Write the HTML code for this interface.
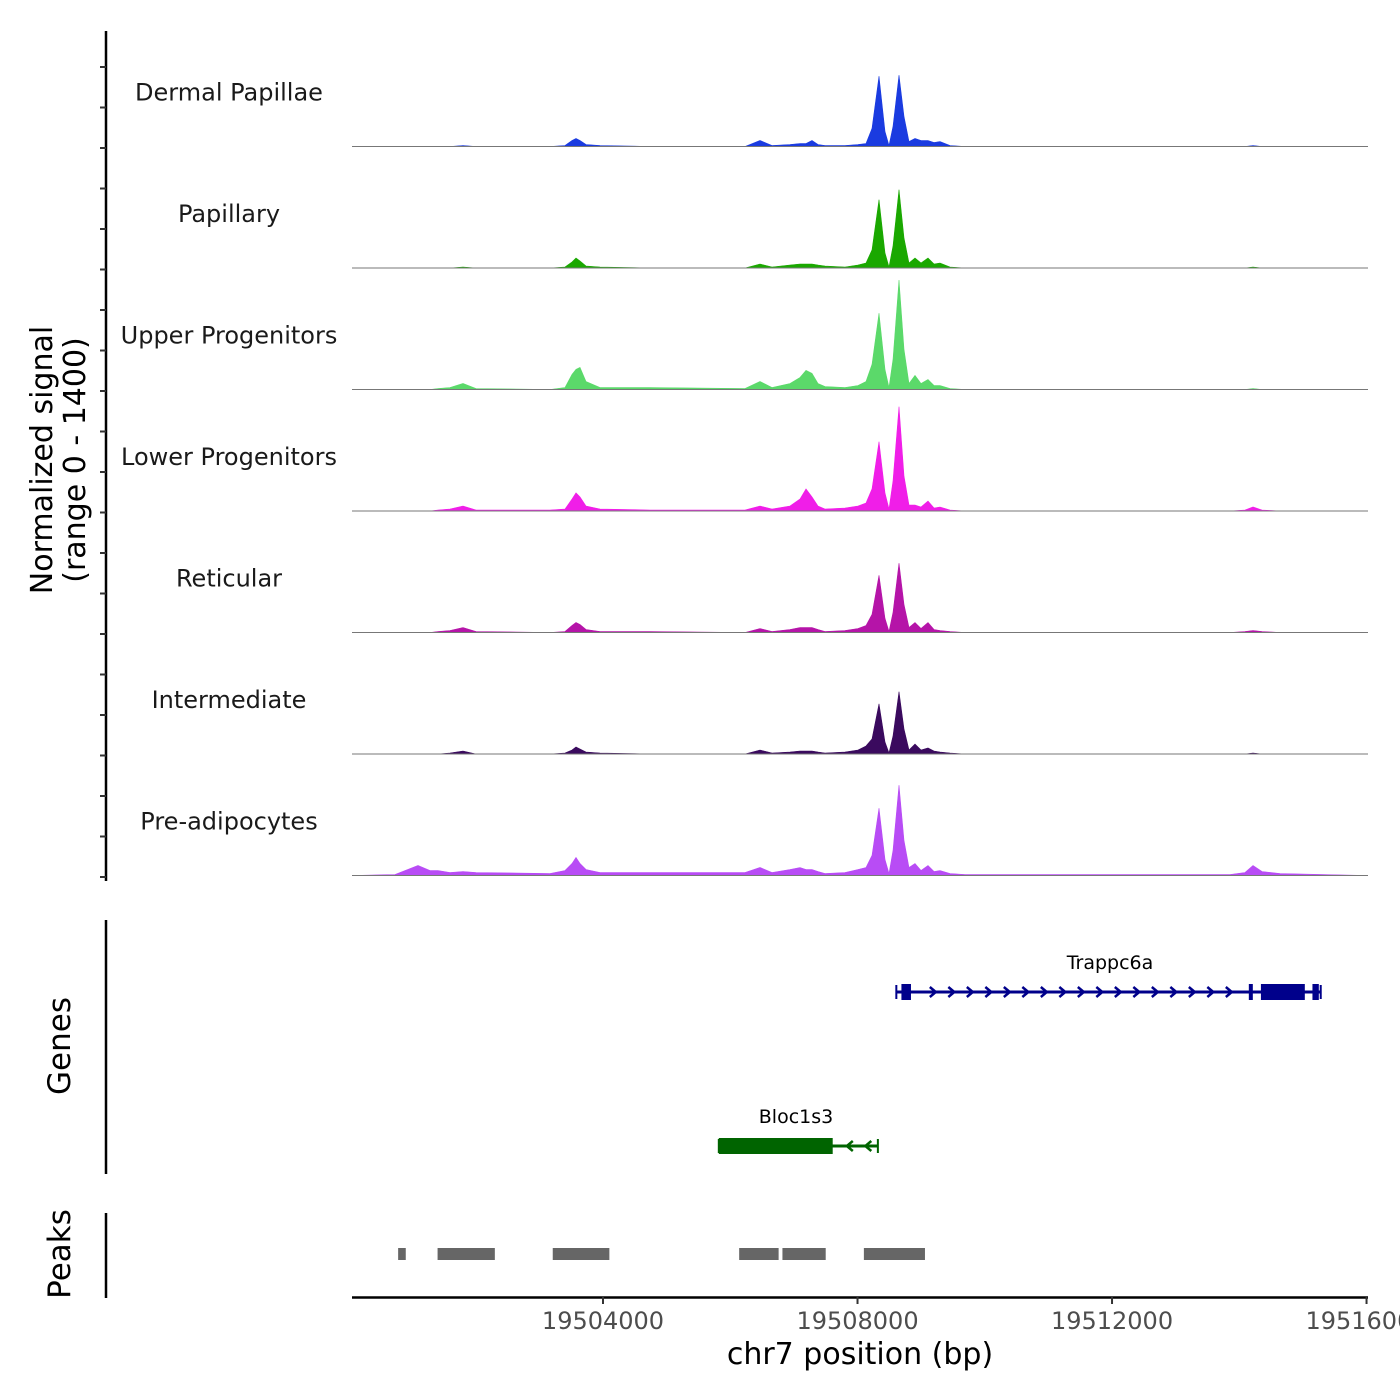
<!DOCTYPE html>
<html><head><meta charset="utf-8"><style>
html,body{margin:0;padding:0;background:#fff;}
svg{display:block;font-family:"DejaVu Sans","Liberation Sans",sans-serif;}
</style></head><body>
<svg id="chart" width="1400" height="1400" viewBox="0 0 1400 1400" overflow="visible"></svg>
<script>
// ---- data ----
const positions = [19500055,19500731,19501092,19501281,19501407,19501595,19501800,19502004,19503167,19503403,19503513,19503576,19503638,19503733,19503953,19504739,19506232,19506468,19506656,19506939,19507096,19507191,19507285,19507379,19507489,19507804,19508008,19508134,19508228,19508338,19508432,19508495,19508558,19508652,19508731,19508809,19508904,19508998,19509108,19509202,19509297,19509454,19509690,19511811,19513854,19514090,19514216,19514357,19514640,19516023];
const trackNames = ["Dermal Papillae","Papillary","Upper Progenitors","Lower Progenitors","Reticular","Intermediate","Pre-adipocytes"];
const trackColors = ["#1a3be0","#1aa800","#5bd96a","#f01ee8","#b514a8","#3a0a5e","#b84cf5"];
// signal values (scaled units, track max = 121)
const dermalValues = [0,0,0,0,0,0,1,0,0,1,6,8,6,2,1,0,0,6,1,2,3,3,6,2,1,1,2,3,18,70,15,1,20,71,30,5,8,6,6,4,5,1,0,0,0,0,1,0,0,0];
const papillaryValues = [0,0,0,0,0,0,1,0,0,1,6,10,7,2,1,0,0,4,1,3,4,4,4,3,2,1,3,5,18,68,15,1,22,78,30,5,10,5,10,4,5,1,0,0,0,0,1,0,0,0];
const upperValues = [0,0,0,0,1,2,6,1,0,2,15,20,22,8,2,2,1,8,2,6,12,19,16,6,3,2,4,8,25,76,20,2,30,109,40,6,14,6,10,4,4,1,0,0,0,0,1,0,0,0];
const lowerValues = [0,0,0,0,1,2,5,1,1,2,12,18,14,5,2,1,1,5,2,5,12,22,14,5,2,3,5,8,22,69,18,2,30,104,35,6,6,4,10,3,4,1,0,0,0,1,4,1,0,0];
const reticularValues = [0,0,0,0,1,2,5,1,0,1,7,10,8,3,1,1,0,4,1,3,5,5,5,3,1,2,4,7,18,57,14,1,20,69,28,5,10,4,10,3,2,1,0,0,0,1,2,1,0,0];
const intermediateValues = [0,0,0,0,0,1,3,0,0,1,4,7,5,2,1,0,0,4,1,2,3,3,3,2,1,2,4,8,15,50,12,1,18,62,25,4,10,4,6,3,2,1,0,0,0,0,1,0,0,0];
const preadipoValues = [0,1,10,5,5,3,4,3,2,5,12,18,12,6,3,3,3,8,3,6,8,6,6,4,2,3,6,8,20,67,16,2,25,90,35,8,12,5,10,4,5,2,1,1,1,3,10,4,2,0];
const xTicks = [19504000,19508000,19512000,19516000];
const xTickLabels = ["19504000","19508000","19512000","19516000"];
const peakStarts = [19500780,19501400,19503210,19506140,19506820,19508100];
const peakEnds = [19500900,19502300,19504100,19506760,19507500,19509060];
const trappcExons = [[19508690,19508840],[19514150,19514200],[19514340,19515030],[19515150,19515250]];
const trappcSpan = [19508610,19515280];
const blocExons = [[19505820,19507610]];
const blocSpan = [19505820,19508320];

const allValues=[dermalValues,papillaryValues,upperValues,lowerValues,reticularValues,intermediateValues,preadipoValues];
const NS="http://www.w3.org/2000/svg", svg=document.getElementById("chart");
const xMin=19500055,xMax=19516023,pxL=352,pxR=1368;
const xs=v=>pxL+(v-xMin)/(xMax-xMin)*(pxR-pxL);
const yMax=121, trackTop=25, trackH=121.5;
function mk(tag,attrs,parent){const e=document.createElementNS(NS,tag);for(const k in attrs)e.setAttribute(k,attrs[k]);(parent||svg).appendChild(e);return e;}

// left axes
let a=mk("line",{x1:106,y1:31,x2:106,y2:881,stroke:"#000","stroke-width":2.5});


for(let y=67;y<=880;y+=40.5){let t=mk("line",{x1:100,y1:y,x2:106,y2:y,stroke:"#333","stroke-width":2});

}
a=mk("line",{x1:106,y1:920,x2:106,y2:1174,stroke:"#000","stroke-width":2.5});


a=mk("line",{x1:106,y1:1213,x2:106,y2:1298,stroke:"#000","stroke-width":2.5});



let t=mk("text",{transform:"translate(52,460) rotate(-90)","text-anchor":"middle","font-size":30,fill:"#000"});


t.textContent="Normalized signal";
t=mk("text",{transform:"translate(85,460) rotate(-90)","text-anchor":"middle","font-size":30,fill:"#000"});


t.textContent="(range 0 - 1400)";
t=mk("text",{transform:"translate(70,1046) rotate(-90)","text-anchor":"middle","font-size":31,fill:"#000"});


t.textContent="Genes";
t=mk("text",{transform:"translate(70,1254) rotate(-90)","text-anchor":"middle","font-size":31,fill:"#000"});


t.textContent="Peaks";

// tracks
allValues.forEach((vals,i)=>{
  const base=trackTop+trackH*(i+1);
  const ys=v=>base-v/yMax*trackH;
  let d="M"+xs(positions[0])+","+base;
  positions.forEach((p,j)=>{d+=" L"+xs(p).toFixed(1)+","+ys(vals[j]).toFixed(1);});
  d+=" L"+xs(positions[positions.length-1])+","+base+" Z";
  const path=mk("path",{d:d,fill:trackColors[i],stroke:trackColors[i],"stroke-width":0.6});
  
  
  const bl=mk("line",{x1:pxL,y1:base,x2:pxR,y2:base,stroke:"#777","stroke-width":1});
  
  
  const lb=mk("text",{x:229,y:base-46,"text-anchor":"middle","font-size":24,fill:"#1a1a1a"});
  
  
  lb.textContent=trackNames[i];
});

// genes
function gene(name,span,exons,y,color,dir,label){
  const g=mk("g",{});
  
  
  mk("line",{x1:xs(span[0]),y1:y,x2:xs(span[1]),y2:y,stroke:color,"stroke-width":3},g);
  const x0=xs(span[0]),x1=xs(span[1]);
  for(let x=x0+19;x<x1-5;x+=18.5){
    const inEx=exons.some(e=>x>xs(e[0])-6&&x<xs(e[1])+6);
    if(inEx) continue;
    mk("polyline",{points:dir>0?`${x-4},${y-5} ${x+2},${y} ${x-4},${y+5}`:`${x+4},${y-5} ${x-2},${y} ${x+4},${y+5}`,fill:"none",stroke:color,"stroke-width":2.5},g);
  }
  exons.forEach(e=>mk("rect",{x:xs(e[0]),y:y-8,width:Math.max(4,xs(e[1])-xs(e[0])),height:16,fill:color},g));
  mk("line",{x1:x0,y1:y-7,x2:x0,y2:y+7,stroke:color,"stroke-width":2},g);
  mk("line",{x1:x1,y1:y-7,x2:x1,y2:y+7,stroke:color,"stroke-width":2},g);
  const lt=mk("text",{x:label,y:y-23,"text-anchor":"middle","font-size":19,fill:"#000"},g);
  lt.textContent=name;
}
gene("Trappc6a",trappcSpan,trappcExons,992,"#00008b",1,1110);
gene("Bloc1s3",blocSpan,blocExons,1146,"#006400",-1,796);

// peaks
peakStarts.forEach((s,i)=>{
  const r=mk("rect",{x:xs(s),y:1248,width:xs(peakEnds[i])-xs(s),height:12,fill:"#666"});
  
  
});

// x axis
a=mk("line",{x1:pxL,y1:1297.5,x2:pxR,y2:1297.5,stroke:"#000","stroke-width":2.5});


xTicks.forEach((v,i)=>{
  const tk=mk("line",{x1:xs(v),y1:1297,x2:xs(v),y2:1304,stroke:"#333","stroke-width":2});
  
  
  const tl=mk("text",{x:xs(v),y:1329,"text-anchor":"middle","font-size":24,fill:"#4d4d4d"});
  
  
  tl.textContent=xTickLabels[i];
});
t=mk("text",{x:860,y:1364,"text-anchor":"middle","font-size":30,fill:"#000"});


t.textContent="chr7 position (bp)";
</script>
</body></html>
